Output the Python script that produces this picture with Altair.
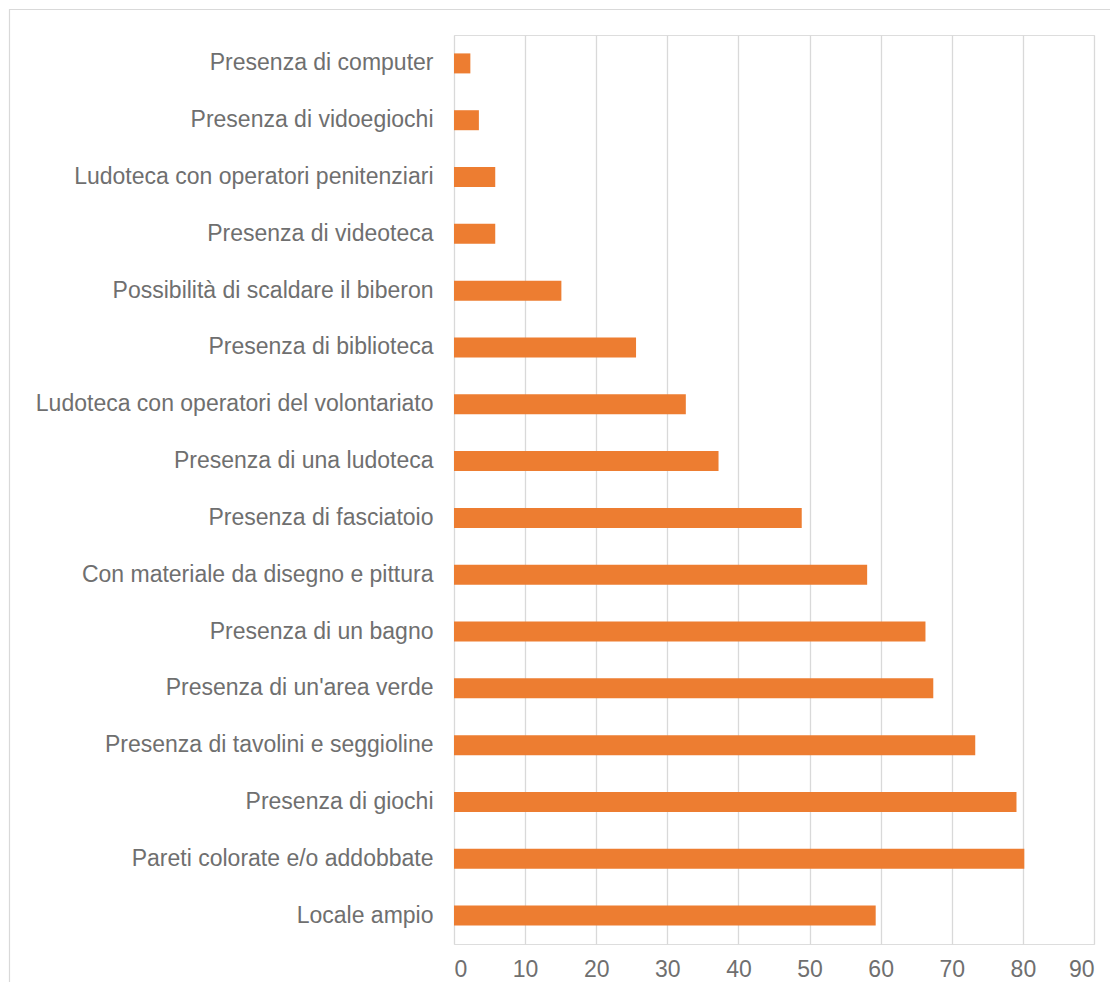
import altair as alt
import pandas as pd

categories = [
    "Presenza di computer",
    "Presenza di vidoegiochi",
    "Ludoteca con operatori penitenziari",
    "Presenza di videoteca",
    "Possibilità di scaldare il biberon",
    "Presenza di biblioteca",
    "Ludoteca con operatori del volontariato\u00a0",
    "Presenza di una ludoteca",
    "Presenza di fasciatoio",
    "Con materiale da disegno e pittura",
    "Presenza di un bagno",
    "Presenza di un'area verde",
    "Presenza di tavolini e seggioline",
    "Presenza di giochi",
    "Pareti colorate e/o addobbate",
    "Locale ampio",
]
values = [2.3, 3.5, 5.8, 5.8, 15.1, 25.6, 32.6, 37.2, 48.9, 58.1, 66.3, 67.4, 73.3, 79.1, 80.2, 59.3]
x_ticks = [0, 10, 20, 30, 40, 50, 60, 70, 80, 90]

df = pd.DataFrame({"cat": categories, "val": values})

FONT = "Liberation Sans"
TXT = "#6f6f6f"
GRID = "#d9d9d9"

bars = alt.Chart(df).mark_bar(size=20, color="#ED7D31").encode(
    x=alt.X(
        "val:Q",
        scale=alt.Scale(domain=[0, 90], nice=False),
        axis=alt.Axis(
            values=x_ticks,
            title=None,
            grid=True,
            gridColor=GRID,
            gridWidth=1.3,
            domain=False,
            ticks=False,
            labelFont=FONT,
            labelFontSize=23,
            labelColor=TXT,
            labelPadding=14,
        ),
    ),
    y=alt.Y(
        "cat:N",
        sort=categories,
        scale=alt.Scale(paddingInner=0, paddingOuter=0),
        axis=alt.Axis(
            title=None,
            domain=False,
            ticks=False,
            grid=False,
            labelFont=FONT,
            labelFontSize=23,
            labelColor=TXT,
            labelPadding=21,
            labelLimit=0,
        ),
    ),
)

border = alt.Chart(pd.DataFrame({"a": [0]})).mark_rect(
    filled=False, stroke=GRID, strokeWidth=1.2
).encode(
    x=alt.value(-444.5),
    x2=alt.value(720),
    y=alt.value(-25.5),
    y2=alt.value(1000),
)

chart = alt.layer(border, bars).properties(
    width=640,
    height=909,
    padding={"left": 446, "top": 27, "right": 16, "bottom": 38},
    autosize=alt.AutoSizeParams(type="none"),
).configure_view(stroke=None).configure(background="white")

chart.save("out.html", embed_options={"renderer": "svg", "actions": False})
